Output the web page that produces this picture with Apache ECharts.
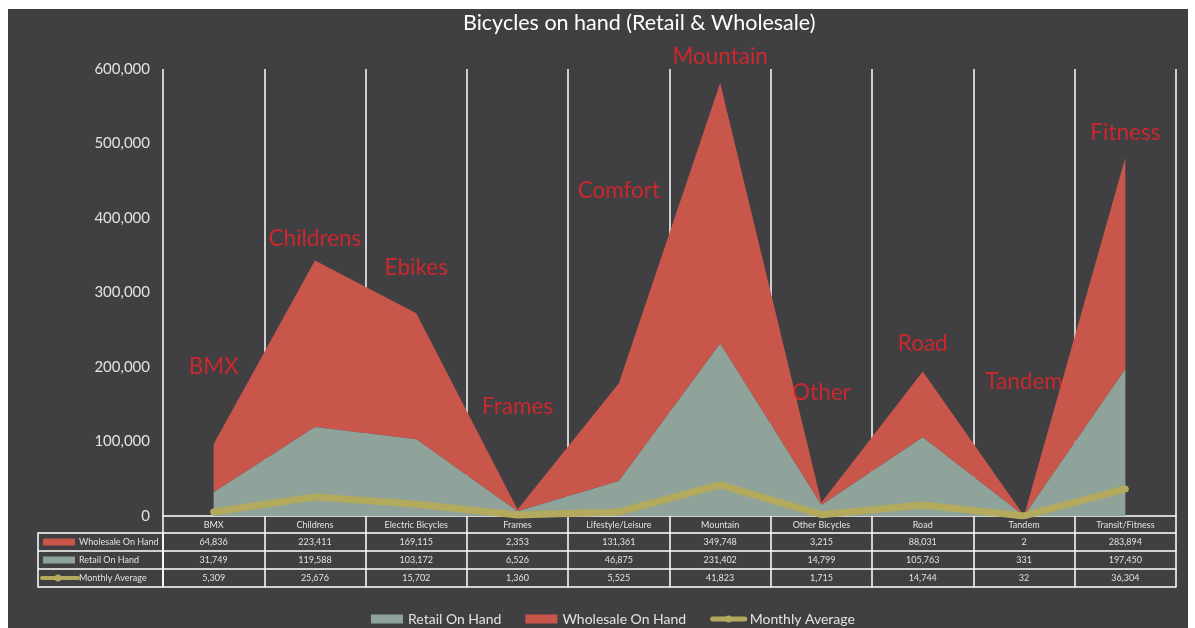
<!DOCTYPE html>
<html>
<head>
<meta charset="utf-8">
<script src="https://cdn.jsdelivr.net/npm/echarts@6/dist/echarts.min.js"></script>
<style>
  html, body { margin: 0; padding: 0; background: #ffffff; }
  #chart { position: absolute; left: 8px; top: 9px; width: 1180px; height: 619px; background: #404042; }
</style>
</head>
<body>
<div id="chart"></div>
<script>
// chart data
const categories = ['BMX', 'Childrens', 'Electric Bicycles', 'Frames', 'Lifestyle/Leisure', 'Mountain', 'Other Bicycles', 'Road', 'Tandem', 'Transit/Fitness']
const wholesale = [64836, 223411, 169115, 2353, 131361, 349748, 3215, 88031, 2, 283894]
const retail = [31749, 119588, 103172, 6526, 46875, 231402, 14799, 105763, 331, 197450]
const monthlyAvg = [5309, 25676, 15702, 1360, 5525, 41823, 1715, 14744, 32, 36304]

// red callout names and where they sit (in axis units)
const calloutNames = ['BMX', 'Childrens', 'Ebikes', 'Frames', 'Comfort', 'Mountain', 'Other', 'Road', 'Tandem', 'Fitness']
const calloutY = [201000, 372000, 333000, 146000, 436000, 617000, 165000, 231000, 180000, 514000]

const yTicks = { min: 0, max: 600000, interval: 100000 }

const RED = '#c9564b'
const GREY = '#8fa39a'
const OLIVE = '#b3aa5d'
const TXT = '#e2e2e2'
const FONT = 'Lato'

const fmt = v => v.toLocaleString('en-US')

var chartDom = document.getElementById('chart')
var myChart = echarts.init(chartDom)

// table rows under the plot, done as extra category axes
const rowAxis = (values, offset, len) => ({
  type: 'category',
  position: 'bottom',
  gridIndex: 0,
  offset: offset,
  data: values.map(fmt),
  axisLine: { show: true, lineStyle: { color: '#ffffff', width: 1.5 } },
  axisTick: { show: true, length: len, lineStyle: { color: '#ffffff', width: 1.5 } },
  axisLabel: { show: true, color: TXT, fontSize: 9, fontFamily: FONT, margin: 5, interval: 0 },
  splitLine: { show: false }
})

// left legend column of the table
const colX = 30, colW = 125, rowTop = 524, rowH = 18
const rowLabels = ['Wholesale On Hand', 'Retail On Hand', 'Monthly Average']
const rowColors = [RED, GREY, OLIVE]
const tableGraphic = [
  { type: 'rect', shape: { x: colX, y: rowTop, width: colW, height: rowH * 3 },
    style: { fill: 'none', stroke: '#ffffff', lineWidth: 1.5 } },
  { type: 'line', shape: { x1: colX, y1: rowTop + rowH, x2: colX + colW, y2: rowTop + rowH },
    style: { stroke: '#ffffff', lineWidth: 1.5 } },
  { type: 'line', shape: { x1: colX, y1: rowTop + rowH * 2, x2: colX + colW, y2: rowTop + rowH * 2 },
    style: { stroke: '#ffffff', lineWidth: 1.5 } }
]
rowLabels.forEach((name, i) => {
  const cy = rowTop + rowH * i + rowH / 2
  if (i < 2) {
    tableGraphic.push({ type: 'rect', shape: { x: colX + 5, y: cy - 3.5, width: 32, height: 7 }, style: { fill: rowColors[i] } })
  } else {
    tableGraphic.push({ type: 'line', shape: { x1: colX + 4, y1: cy, x2: colX + 40, y2: cy },
      style: { stroke: rowColors[i], lineWidth: 4, lineCap: 'round' } })
    tableGraphic.push({ type: 'circle', shape: { cx: colX + 20, cy: cy, r: 3.5 }, style: { fill: rowColors[i] } })
  }
  tableGraphic.push({ type: 'text', x: colX + 41, y: cy,
    style: { text: name, fill: TXT, font: '9px ' + FONT, verticalAlign: 'middle' } })
})

var option = {
  textStyle: { fontFamily: FONT },
  title: {
    text: 'Bicycles on hand (Retail & Wholesale)',
    left: 455,
    top: 3,
    padding: 0,
    textStyle: { color: '#ffffff', fontSize: 21.5, fontWeight: 'normal', fontFamily: FONT }
  },
  legend: {
    left: 358,
    top: 598,
    itemWidth: 32,
    itemHeight: 9,
    itemGap: 24,
    data: [
      { name: 'Retail On Hand', icon: 'rect' },
      { name: 'Wholesale On Hand', icon: 'rect' },
      { name: 'Monthly Average', lineStyle: { width: 5 } }
    ],
    textStyle: { color: TXT, fontSize: 14, fontFamily: FONT }
  },
  grid: { left: 155, right: 12, top: 60, bottom: 112, containLabel: false },
  xAxis: [
    {
      type: 'category',
      position: 'bottom',
      data: categories,
      boundaryGap: true,
      axisLine: { show: true, lineStyle: { color: '#ffffff', width: 1.5 } },
      axisTick: { show: true, length: 17, lineStyle: { color: '#ffffff', width: 1.5 } },
      axisLabel: { color: TXT, fontSize: 9, fontFamily: FONT, margin: 5, interval: 0 },
      splitLine: { show: true, lineStyle: { color: '#ffffff', width: 1.5 } }
    },
    rowAxis(wholesale, 17, 18),
    rowAxis(retail, 35, 18),
    rowAxis(monthlyAvg, 53, 18),
    {
      type: 'category',
      position: 'bottom',
      offset: 71,
      data: categories,
      axisLine: { show: true, lineStyle: { color: '#ffffff', width: 1.5 } },
      axisTick: { show: false },
      axisLabel: { show: false },
      splitLine: { show: false }
    }
  ],
  yAxis: {
    type: 'value',
    min: yTicks.min,
    max: yTicks.max,
    interval: yTicks.interval,
    axisLine: { show: false },
    axisTick: { show: false },
    splitLine: { show: false },
    axisLabel: { color: TXT, fontSize: 15, fontFamily: FONT, margin: 13, formatter: v => fmt(v) }
  },
  series: [
    {
      name: 'Retail On Hand',
      type: 'line',
      stack: 'Total',
      data: retail,
      symbol: 'none',
      color: GREY,
      lineStyle: { width: 0 },
      areaStyle: { color: GREY, opacity: 1 },
      z: 2
    },
    {
      name: 'Wholesale On Hand',
      type: 'line',
      stack: 'Total',
      data: wholesale,
      symbol: 'none',
      color: RED,
      lineStyle: { width: 0 },
      areaStyle: { color: RED, opacity: 1 },
      z: 1
    },
    {
      name: 'Monthly Average',
      type: 'line',
      data: monthlyAvg,
      symbol: 'none',
      color: OLIVE,
      lineStyle: { width: 7, color: OLIVE, cap: 'round', join: 'round' },
      z: 4
    },
    {
      name: 'callouts',
      type: 'scatter',
      data: categories.map((c, i) => [c, calloutY[i]]),
      symbolSize: 1,
      itemStyle: { color: 'rgba(0,0,0,0)' },
      clip: false,
      silent: true,
      z: 5,
      label: {
        show: true,
        position: 'inside',
        formatter: p => calloutNames[p.dataIndex],
        color: '#ee2228',
        fontSize: 22.5,
        fontFamily: FONT
      }
    }
  ],
  graphic: tableGraphic
}

option && myChart.setOption(option)
</script>
</body>
</html>
